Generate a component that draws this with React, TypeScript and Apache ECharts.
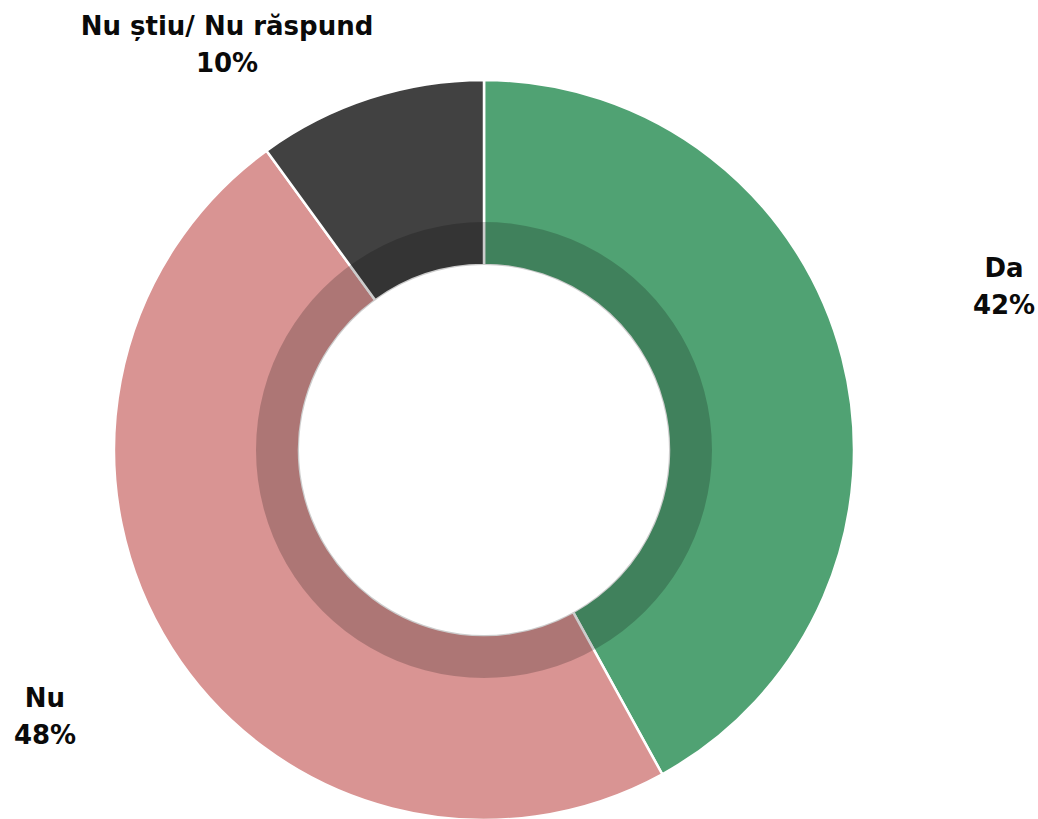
import React, { useEffect, useRef } from "react";
import * as echarts from "echarts";

const categories = ["Da", "Nu", "Nu știu/ Nu răspund"];
const values = [42, 48, 10];
const colors = ["#50A273", "#D99493", "#414141"];
const labelPositions = [
  [1004, 286],
  [45, 716],
  [227, 44],
];

export default function App() {
  const ref = useRef<HTMLDivElement>(null);
  useEffect(() => {
    document.body.style.margin = "0";
    const chart = echarts.init(ref.current!, null, { renderer: "svg" });
    const data = categories.map((c, i) => ({ name: c, value: values[i] }));
    chart.setOption({
      animation: false,
      backgroundColor: "#ffffff",
      series: [
        {
          type: "pie",
          center: [484, 450],
          radius: [185, 370],
          startAngle: 90,
          clockwise: true,
          silent: true,
          itemStyle: { borderColor: "#ffffff", borderWidth: 2.5 },
          data: data.map((d, i) => ({ ...d, itemStyle: { color: colors[i] } })),
          label: {
            show: true,
            position: "outside",
            formatter: (p: any) => `${p.name}\n${p.value}%`,
            fontFamily: "DejaVu Sans",
            fontWeight: "bold",
            fontSize: 26,
            lineHeight: 37,
            color: "#0a0a0a",
            align: "center",
          },
          labelLine: { show: false },
          labelLayout: (p: any) => ({
            x: labelPositions[p.dataIndex][0],
            y: labelPositions[p.dataIndex][1],
            align: "center",
            verticalAlign: "middle",
          }),
        },
        {
          type: "pie",
          center: [484, 450],
          radius: [185, 228],
          silent: true,
          z: 3,
          itemStyle: { color: "rgba(0,0,0,0.2)", borderWidth: 0 },
          data: [{ name: "overlay", value: 1 }],
          label: { show: false },
          labelLine: { show: false },
        },
      ],
    });
    return () => chart.dispose();
  }, []);
  return <div ref={ref} style={{ width: 1038, height: 819 }} />;
}
